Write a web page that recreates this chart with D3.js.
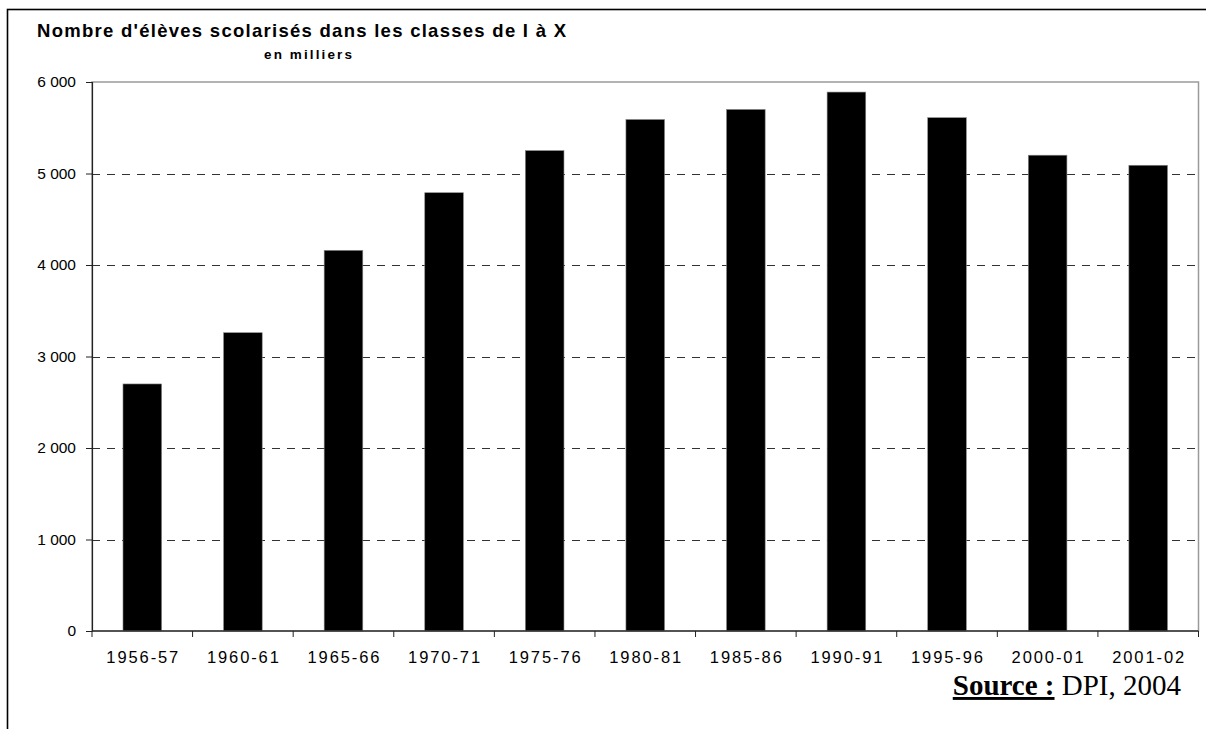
<!DOCTYPE html>
<html>
<head>
<meta charset="utf-8">
<script src="https://cdn.jsdelivr.net/npm/d3@7"></script>
<style>
  html, body { margin: 0; padding: 0; background: #fff; }
  svg { display: block; font-family: Arial, "Liberation Sans", sans-serif; }
</style>
</head>
<body>
<svg id="chart" width="1206" height="729"></svg>
<script>
// Élèves scolarisés (classes I à X), en milliers
const years = ["1956-57", "1960-61", "1965-66", "1970-71", "1975-76", "1980-81",
               "1985-86", "1990-91", "1995-96", "2000-01", "2001-02"];
const pupils = [2700, 3260, 4160, 4790, 5250, 5590, 5700, 5890, 5610, 5200, 5090];
const yTicks = [0, 1000, 2000, 3000, 4000, 5000, 6000];

const svg = d3.select("#chart");
const plot = { left: 92, top: 82, right: 1198.5, bottom: 631 };

// outer frame (runs off the right and bottom edges)
svg.append("rect")
  .attr("x", 7.5).attr("y", 9.5)
  .attr("width", 1250).attr("height", 800)
  .attr("fill", "none").attr("stroke", "#000").attr("stroke-width", 1.6);

const x = d3.scaleBand().domain(years).range([plot.left, plot.right]).paddingInner(0.616).paddingOuter(0.308);
const y = d3.scaleLinear().domain([0, 6000]).range([plot.bottom, plot.top]);

const fmt = v => d3.format(",")(v).replace(/,/g, " ");

// plot area border
svg.append("rect")
  .attr("x", plot.left).attr("y", plot.top)
  .attr("width", plot.right - plot.left).attr("height", plot.bottom - plot.top)
  .attr("fill", "none").attr("stroke", "#9a9a9a").attr("stroke-width", 1.5);

// dashed gridlines
svg.append("g").selectAll("line")
  .data(yTicks.filter(t => t > 0 && t < 6000))
  .join("line")
  .attr("x1", plot.left).attr("x2", plot.right)
  .attr("y1", d => Math.round(y(d)) + 0.5).attr("y2", d => Math.round(y(d)) + 0.5)
  .attr("stroke", "#333").attr("stroke-width", 1.2)
  .attr("stroke-dasharray", "8,7");

// bars
svg.append("g").selectAll("rect")
  .data(years.map((yr, i) => ({ yr, v: pupils[i] })))
  .join("rect")
  .attr("x", d => x(d.yr))
  .attr("y", d => y(d.v))
  .attr("width", x.bandwidth())
  .attr("height", d => y(0) - y(d.v))
  .attr("fill", "#000")
  .attr("stroke", "#888").attr("stroke-width", 0.6);

// y axis
const yAxis = svg.append("g")
  .attr("transform", `translate(${plot.left},0)`)
  .call(d3.axisLeft(y).tickValues(yTicks).tickFormat(fmt).tickSize(6).tickPadding(10));
yAxis.select(".domain").attr("stroke", "#222").attr("stroke-width", 1.2);
yAxis.selectAll(".tick line").attr("stroke", "#222");
yAxis.selectAll("text")
  .attr("font-size", 15.5).attr("fill", "#000")
  .attr("font-family", "Arial, 'Liberation Sans', sans-serif");

// x axis: ticks sit between categories
const xAxisG = svg.append("g").attr("transform", `translate(0,${plot.bottom})`);
xAxisG.append("line")
  .attr("x1", plot.left).attr("x2", plot.right)
  .attr("y1", 0).attr("y2", 0)
  .attr("stroke", "#333").attr("stroke-width", 1.5);
const step = x.step();
xAxisG.selectAll("line.sep")
  .data(d3.range(years.length + 1))
  .join("line").attr("class", "sep")
  .attr("x1", i => plot.left + i * step).attr("x2", i => plot.left + i * step)
  .attr("y1", 0).attr("y2", 6)
  .attr("stroke", "#222");
xAxisG.selectAll("text")
  .data(years)
  .join("text")
  .attr("x", d => x(d) + x.bandwidth() / 2)
  .attr("y", 32)
  .attr("text-anchor", "middle")
  .attr("font-size", 16.5)
  .attr("textLength", 72)
  .attr("lengthAdjust", "spacing")
  .text(d => d);

// title
svg.append("text")
  .attr("x", 37).attr("y", 37)
  .attr("font-size", 18.5).attr("font-weight", "bold")
  .attr("textLength", 529).attr("lengthAdjust", "spacing")
  .text("Nombre d'élèves scolarisés dans les classes de I à X");
svg.append("text")
  .attr("x", 308).attr("y", 59)
  .attr("text-anchor", "middle")
  .attr("font-size", 13.5).attr("font-weight", "bold")
  .attr("textLength", 88).attr("lengthAdjust", "spacing")
  .text("en milliers");

// source
const src = svg.append("text")
  .attr("x", 1181).attr("y", 695)
  .attr("text-anchor", "end")
  .attr("font-family", "'Times New Roman', 'Liberation Serif', serif")
  .attr("font-size", 29);
src.append("tspan").attr("font-weight", "bold").attr("text-decoration", "underline").text("Source :");
src.append("tspan").text(" DPI, 2004");
</script>
</body>
</html>
